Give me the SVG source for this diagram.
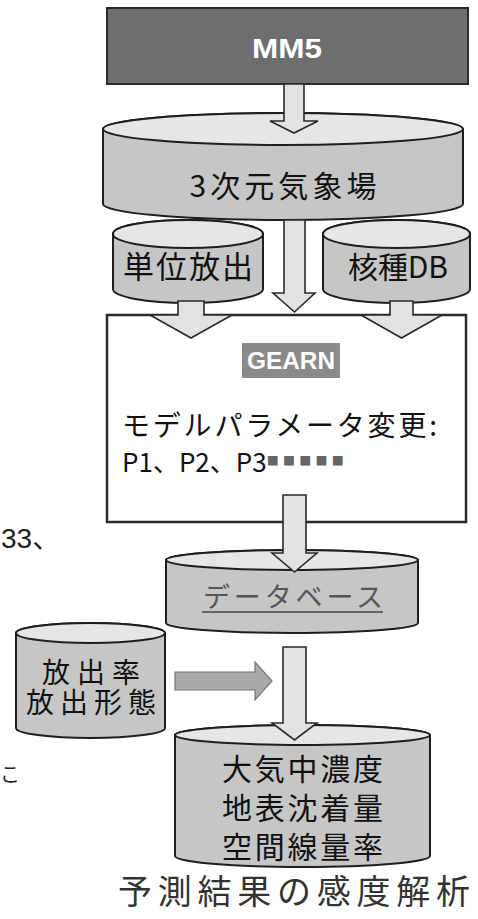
<svg xmlns="http://www.w3.org/2000/svg" width="478" height="919" viewBox="0 0 478 919">
<style>
.body{fill:#c6c6c6;stroke:#1e1e1e;stroke-width:2}
.top{fill:#e6e6e6;stroke:#1e1e1e;stroke-width:2}
.jp{font-family:"Noto Sans CJK JP","Noto Sans",sans-serif;fill:#111}
.lat{font-family:"Liberation Sans","DejaVu Sans",sans-serif;font-weight:bold;fill:#fff}
.arr{fill:#e2e2e2;stroke:#2a2a2a;stroke-width:1.6;stroke-linejoin:miter}
</style>
<rect width="478" height="919" fill="#fff"/>

<g id="mm5">
<rect x="107" y="8" width="361" height="76" fill="#6e6e6e" stroke="#2a2a2a" stroke-width="2"/>
<text class="lat" x="287" y="58" font-size="27" text-anchor="middle" textLength="70" lengthAdjust="spacingAndGlyphs">MM5</text>
</g>

<g id="met3d">
<path class="body" d="M103,129 L103,204 A180,16 0 0 0 463,204 L463,129 A180,16 0 0 0 103,129 Z"/>
<ellipse class="top" cx="283" cy="129" rx="180" ry="16"/>
<text class="jp" x="283" y="197" font-size="30" text-anchor="middle" textLength="187" lengthAdjust="spacing">3次元気象場</text>
</g>

<g id="unit">
<path class="body" d="M113,234 L113,289 A75,14 0 0 0 263,289 L263,234 A75,14 0 0 0 113,234 Z"/>
<ellipse class="top" cx="188" cy="234" rx="75" ry="14"/>
<text class="jp" x="188" y="278" font-size="31" text-anchor="middle" textLength="130" lengthAdjust="spacing">単位放出</text>
</g>

<g id="nuclide">
<path class="body" d="M323,234 L323,289 A73.5,14 0 0 0 470,289 L470,234 A73.5,14 0 0 0 323,234 Z"/>
<ellipse class="top" cx="396.5" cy="234" rx="73.5" ry="14"/>
<text class="jp" x="398" y="278" font-size="30" text-anchor="middle" textLength="100" lengthAdjust="spacing">核種DB</text>
</g>

<g id="gearn">
<rect x="107" y="315" width="359" height="207" fill="#fff" stroke="#2a2a2a" stroke-width="2.5"/>
<rect x="242" y="343" width="98" height="35" fill="#8a8a8a"/>
<text class="lat" x="291" y="369" font-size="24" text-anchor="middle" textLength="88" lengthAdjust="spacingAndGlyphs">GEARN</text>
<text class="jp" x="122" y="436" font-size="28" textLength="315" lengthAdjust="spacing">モデルパラメータ変更:</text>
<text class="jp" x="122" y="472" font-size="26">P1、P2、P3<tspan font-size="12" fill="#666" textLength="77" lengthAdjust="spacing" dy="-6">■■■■■</tspan></text>
</g>

<g id="database">
<path class="body" d="M166,560 L166,623 A126,10 0 0 0 418,623 L418,560 A126,10 0 0 0 166,560 Z"/>
<ellipse class="top" cx="292" cy="560" rx="126" ry="10"/>
<text class="jp" x="293" y="607" font-size="27" text-anchor="middle" textLength="180" lengthAdjust="spacing" style="fill:#555">データベース</text>
<line x1="202" y1="612" x2="383" y2="612" stroke="#444" stroke-width="1.5"/>
</g>

<g id="release">
<path class="body" d="M16,633 L16,728 A74.5,10 0 0 0 165,728 L165,633 A74.5,10 0 0 0 16,633 Z"/>
<ellipse class="top" cx="90.5" cy="633" rx="74.5" ry="10"/>
<text class="jp" x="91" y="683" font-size="28" text-anchor="middle" textLength="98" lengthAdjust="spacing">放出率</text>
<text class="jp" x="91" y="713" font-size="28" text-anchor="middle" textLength="130" lengthAdjust="spacing">放出形態</text>
</g>

<g id="result">
<path class="body" d="M175,735 L175,856 A127.5,11 0 0 0 430,856 L430,735 A127.5,10 0 0 0 175,735 Z"/>
<ellipse class="top" cx="302.5" cy="735" rx="127.5" ry="10"/>
<text class="jp" x="302.5" y="780" font-size="30" text-anchor="middle" textLength="161" lengthAdjust="spacing">大気中濃度</text>
<text class="jp" x="302.5" y="819" font-size="30" text-anchor="middle" textLength="161" lengthAdjust="spacing">地表沈着量</text>
<text class="jp" x="302.5" y="858" font-size="30" text-anchor="middle" textLength="161" lengthAdjust="spacing">空間線量率</text>
</g>

<g id="caption">
<text class="jp" x="118" y="904" font-size="34" textLength="352" lengthAdjust="spacing" style="fill:#333">予測結果の感度解析</text>
</g>

<g id="fragments">
<text x="1" y="548" font-family="'Liberation Sans','Noto Sans CJK JP',sans-serif" font-size="28" fill="#222">33、</text>
<text x="0" y="782" font-family="'Noto Sans CJK JP',sans-serif" font-size="20" fill="#222">こ</text>
</g>

<g id="connectors">
<polygon class="arr" points="284,84 304,84 304,121 318,121 294,133 270,121 284,121"/>
<polygon class="arr" points="284,220 305,220 305,293 315,293 294.5,312 273,293 284,293"/>
<polygon class="arr" points="178,301 204,301 204,315 232,315 191,338 150,315 178,315"/>
<polygon class="arr" points="390,301 413,301 413,315 442,315 401.5,338 361,315 390,315"/>
<polygon class="arr" points="283,495 306,495 306,553 317,553 294.5,572 272,553 283,553"/>
<polygon class="arr" points="283,647 306,647 306,723 317,723 294.5,740 272,723 283,723"/>
<polygon points="175,672 255,672 255,662 272,681 255,700 255,690 175,690" fill="#a9a9a9" stroke="#777" stroke-width="1.2"/>
</g>
</svg>
